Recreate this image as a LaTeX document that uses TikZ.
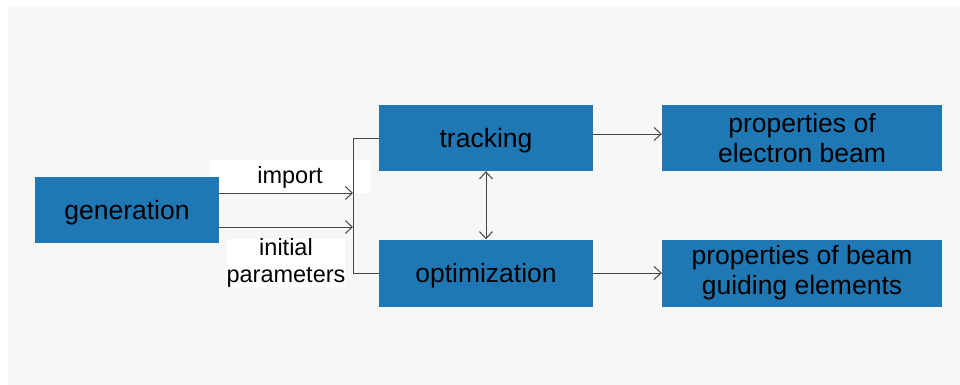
\documentclass[tikz,border=0pt]{standalone}
\usepackage{fontspec}
\setmainfont{Liberation Sans}
\usetikzlibrary{arrows.meta}
\definecolor{boxblue}{RGB}{31,119,180}
\definecolor{panelgray}{RGB}{247,247,247}
\definecolor{linegray}{RGB}{70,70,70}
\begin{document}
\begin{tikzpicture}[x=1pt,y=-1pt,
  bluebox/.style={fill=boxblue, draw=none, inner sep=0pt, align=center, text=black,
    font=\fontsize{26.5}{30}\selectfont},
  oneline/.style={text height=22pt, text depth=3pt},
  lblbox/.style={fill=white, inner sep=0pt, align=center, text=black,
    font=\fontsize{23.5}{27}\selectfont},
  conn/.style={draw=linegray, line width=1pt},
  arr/.style={conn, -{Straight Barb[length=7pt,width=13pt,line width=1pt]}},
  darr/.style={conn, {Straight Barb[length=7pt,width=13pt,line width=1pt]}-{Straight Barb[length=7pt,width=13pt,line width=1pt]}}
]
\useasboundingbox (0,0) rectangle (960,385);
\fill[panelgray] (8,6) rectangle (960,385);

% label backgrounds
\node[lblbox, minimum width=161pt, minimum height=33pt, text height=20pt, text depth=5pt] (limport) at (290,176) {import};
\node[lblbox, minimum width=116pt, minimum height=44pt] (linit) at (286,263) {initial\\parameters};

% boxes
\node[bluebox, oneline, minimum width=184pt, minimum height=66pt] (gen) at (127,210) {generation};
\node[bluebox, oneline, minimum width=214pt, minimum height=66pt] (track) at (486,138) {tracking};
\node[bluebox, oneline, minimum width=214pt, minimum height=67pt] (opt) at (486,273) {optimization};
\node[bluebox, minimum width=280pt, minimum height=66pt] (peb) at (802,138) {properties of\\electron beam};
\node[bluebox, minimum width=280pt, minimum height=67pt] (pbg) at (802,273) {properties of beam\\guiding elements};

% junction
\coordinate (j1) at (353,138);
\coordinate (j2) at (353,273);
\coordinate (a1) at (353,193);
\coordinate (a2) at (353,227);

\draw[conn] (track.west) -- (j1) -- (j2) -- (opt.west);
\draw[arr] (gen.east |- a1) -- (a1);
\draw[arr] (gen.east |- a2) -- (a2);
\draw[darr] (track.south) -- (opt.north);
\coordinate (b1) at (593,134);
\draw[arr] (b1) -- (peb.west |- b1);
\draw[arr] (opt.east) -- (pbg.west);
\end{tikzpicture}
\end{document}
